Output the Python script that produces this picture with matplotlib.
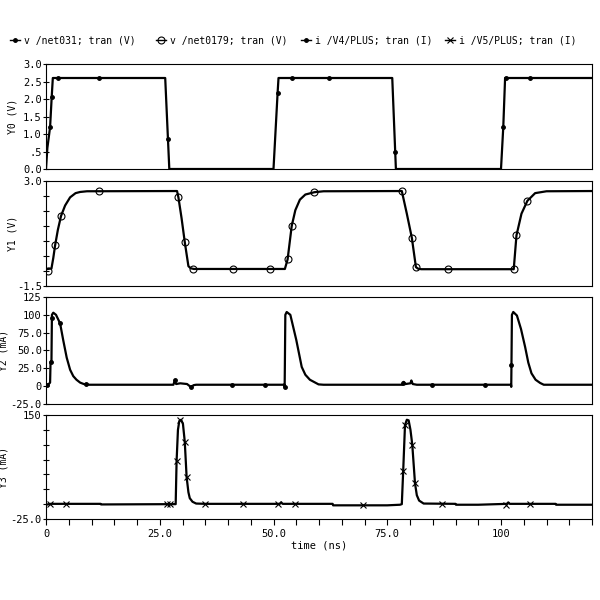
import matplotlib
matplotlib.use('Agg')
import matplotlib.pyplot as plt
from matplotlib.lines import Line2D
import numpy as np

plt.rcParams['font.family'] = ['DejaVu Sans Mono']

# v /net031 (Y0)
t0 = [0, 0.3, 0.9, 1.25, 1.5, 26.2, 27.1, 50.0, 50.9, 51.1, 76.1, 76.9, 100.0, 100.5, 100.9, 120]
v0 = [0, 0.6, 1.2, 2.05, 2.6, 2.6, 0.0, 0.0, 2.17, 2.6, 2.6, 0.0, 0.0, 1.2, 2.6, 2.6]
m0_t = [0.9, 1.25, 2.7, 11.6, 26.8, 50.9, 54.0, 62.3, 76.75, 100.5, 101.2, 106.4]
m0_v = [1.2, 2.05, 2.6, 2.6, 0.87, 2.17, 2.6, 2.6, 0.49, 1.2, 2.6, 2.6]

# v /net0179 (Y1)
t1 = [0, 1.2, 1.6, 2.0, 2.6, 3.3, 4.2, 5.3, 6.5, 7.5, 9, 28.8, 29.1, 29.8, 30.5, 31.3, 31.8, 32.5,
      52.5, 53.1, 54.0, 54.8, 55.8, 57, 59, 61, 78.2, 79.3, 80.4, 81.3, 81.8, 82.5,
      102.8, 103.4, 104.5, 105.8, 107.5, 110, 120]
v1 = [-0.78, -0.75, -0.3, 0.24, 0.9, 1.5, 1.95, 2.3, 2.48, 2.53, 2.56, 2.57, 2.3, 1.4, 0.38, -0.65, -0.74, -0.77,
      -0.77, -0.36, 1.07, 1.75, 2.2, 2.42, 2.52, 2.56, 2.57, 1.6, 0.57, -0.69, -0.76, -0.78,
      -0.78, 0.67, 1.6, 2.15, 2.48, 2.56, 2.57]
m1_t = [0.4, 2.0, 3.3, 11.6, 29.1, 30.5, 32.2, 41.2, 49.2, 53.1, 54.0, 59.0, 78.2, 80.4, 81.3, 88.4,
        102.8, 103.4, 105.8]
m1_v = [-0.85, 0.24, 1.5, 2.57, 2.3, 0.38, -0.76, -0.78, -0.78, -0.36, 1.07, 2.52, 2.57, 0.57, -0.69, -0.78,
        -0.78, 0.67, 2.15]

# i /V4/PLUS (Y2, mA)
t2 = [0, 0.6, 0.9, 1.0, 1.2, 1.3, 1.6, 2.2, 3.1, 3.8, 4.55, 5.3, 6.0, 6.7, 7.5, 8.3, 9.5,
      28.0, 28.3, 28.6, 29.5, 31.0, 31.8, 32.5, 33.0,
      52.4, 52.45, 52.5, 52.6, 52.9, 53.7, 55.0, 56.2, 57.0, 58.0, 59.9, 61.0,
      78.3, 78.6, 79.0, 80.1, 80.3, 80.6, 81.5,
      102.2, 102.25, 102.3, 102.4, 102.7, 103.5, 104.4, 105.3, 106.0, 106.7, 107.6, 108.6, 109.4, 120]
v2 = [0, 3, 5, 34, 35, 100, 103, 100, 88, 64, 40, 23, 14, 9, 5, 3, 2,
      2, 8, 3, 4, 3, -1, 1.5, 2,
      2, -1, 30, 100, 104, 100, 65, 27, 16, 9, 2.5, 2,
      2, 6, 3, 4, 8, 3, 2,
      2, -1, 30, 100, 104, 99, 80, 55, 33, 18, 9, 4.5, 2, 2]
m2_t = [0.3, 1.0, 1.35, 3.1, 8.7, 28.3, 31.8, 40.8, 48.1, 52.45, 78.5, 84.8, 96.5, 102.3]
m2_v = [1, 34, 95, 88, 2.5, 8, -1, 2, 2, -1, 5, 2, 2, 30]

# i /V5/PLUS (Y3, mA)
t3 = [0, 1, 12, 12.1, 28.3, 28.5, 28.7, 29.0, 29.3, 29.7, 30.1, 30.5, 30.9, 31.3, 31.6, 32.2, 33, 35,
      51.4, 51.7, 52.0, 63, 63.1, 75, 77.8, 78.2, 78.5, 78.9, 79.3, 79.7, 80.1, 80.5, 81.1, 81.5, 82, 83,
      90, 90.1, 95, 101.3, 101.6, 101.9, 112, 112.1, 120]
v3 = [-1, 0.5, 0.5, -0.5, 0, 0, 72, 125, 140, 142, 135, 105, 46, 20, 10, 4, 1, 0.5,
      0.5, 3, 0.5, 0.5, -2, -2, -1, 0, 55, 133, 142, 141, 125, 100, 35, 15, 6, 1,
      0.5, -1, -1, 0.5, 3, 0.5, 0.5, -1, -1]
m3_t = [0.8, 4.5, 26.5, 27.2, 28.7, 29.5, 30.5, 30.9, 35, 43.4, 51, 54.7, 69.7, 78.5, 78.9, 80.5, 81.1,
        87, 101.2, 106.4]
m3_v = [0, 0.5, 0.5, 0.5, 72, 142, 105, 46, 0.5, 0.5, 0.5, 0.5, -2, 55, 133, 100, 35, 0.5, -1, 0.5]

labels = ['v /net031; tran (V)', 'v /net0179; tran (V)', 'i /V4/PLUS; tran (I)', 'i /V5/PLUS; tran (I)']

fig = plt.figure(figsize=(6, 6), dpi=100)

left = 46 / 600
width = (592 - 46) / 600
# panel top/bottom in pixels
panels = [(64, 169), (181, 286), (297, 404), (415, 519)]
axes = []
for top, bot in panels:
    ax = fig.add_axes([left, 1 - bot / 600, width, (bot - top) / 600])
    axes.append(ax)

lw = 1.6
fs = 7.5

# Y0
ax = axes[0]
ax.plot(t0, v0, color='black', lw=lw)
ax.plot(m0_t, m0_v, ls='none', marker='.', ms=5, color='black')
ax.set_ylim(0, 3.0)
ax.set_yticks([0, 0.5, 1.0, 1.5, 2.0, 2.5, 3.0])
ax.set_yticklabels(['0.0', '.5', '1.0', '1.5', '2.0', '2.5', '3.0'])
ax.set_ylabel('Y0 (V)')
ax.yaxis.set_label_coords(-0.053, 0.5)

# Y1
ax = axes[1]
ax.plot(t1, v1, color='black', lw=lw)
ax.plot(m1_t, m1_v, ls='none', marker='o', ms=5, mfc='none', mec='black', mew=0.8)
ax.set_ylim(-1.5, 3.0)
ax.set_yticks(np.linspace(-1.5, 3.0, 8))
ax.set_yticklabels(['-1.5', '', '', '', '', '', '', '3.0'])
ax.set_ylabel('Y1 (V)')
ax.yaxis.set_label_coords(-0.053, 0.5)

# Y2
ax = axes[2]
ax.plot(t2, v2, color='black', lw=lw)
ax.plot(m2_t, m2_v, ls='none', marker='.', ms=5, color='black')
ax.set_ylim(-25, 125)
ax.set_yticks([-25, 0, 25, 50, 75, 100, 125])
ax.set_yticklabels(['-25.0', '0', '25.0', '50.0', '75.0', '100', '125'])
ax.set_ylabel('Y2 (mA)')
ax.yaxis.set_label_coords(-0.068, 0.5)

# Y3
ax = axes[3]
ax.plot(t3, v3, color='black', lw=lw)
ax.plot(m3_t, m3_v, ls='none', marker='x', ms=5, color='black', mew=0.8)
ax.set_ylim(-25, 150)
ax.set_yticks([-25, 0, 25, 50, 75, 100, 125, 150])
ax.set_yticklabels(['-25.0', '', '', '', '', '', '', '150'])
ax.set_ylabel('Y3 (mA)')
ax.yaxis.set_label_coords(-0.068, 0.5)

for i, ax in enumerate(axes):
    ax.set_xlim(0, 120)
    ax.yaxis.label.set_size(7)
    ax.tick_params(axis='y', direction='inout', length=4, width=0.8, labelsize=fs, pad=1)
    for s in ax.spines.values():
        s.set_linewidth(0.8)
    if i < 3:
        ax.set_xticks([])
    else:
        ax.set_xticks([0, 25, 50, 75, 100])
        ax.set_xticklabels(['0', '25.0', '50.0', '75.0', '100'])
        ax.set_xticks(np.arange(0, 121, 5), minor=True)
        ax.tick_params(axis='x', which='both', direction='out', length=4, width=0.8, labelsize=fs)
        ax.set_xlabel('time (ns)', fontsize=fs, labelpad=1)

handles = [
    Line2D([], [], color='black', lw=1, marker='.', ms=5),
    Line2D([], [], color='black', lw=1, marker='o', ms=5, mfc='none', mew=0.8),
    Line2D([], [], color='black', lw=1, marker='.', ms=5),
    Line2D([], [], color='black', lw=1, marker='x', ms=5, mew=0.8),
]
# one legend per entry, placed along the top like the reference
leg_x = [10, 156, 301, 445]
for h, lab, x in zip(handles, labels, leg_x):
    fig.legend([h], [lab], loc='center left', bbox_to_anchor=(x / 600, 0.933), frameon=False,
               fontsize=7, handlelength=1.0, handletextpad=0.4, borderpad=0, borderaxespad=0)

fig.savefig('out.png', dpi=100)
